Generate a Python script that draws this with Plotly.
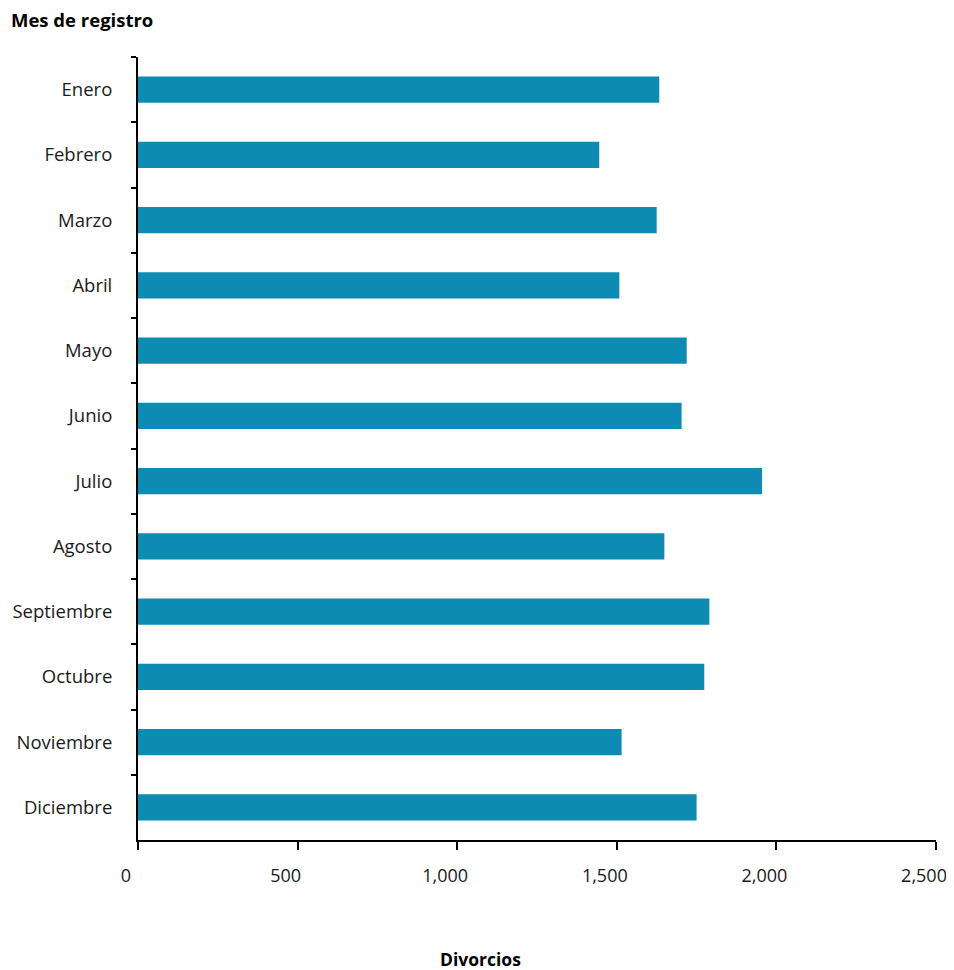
import plotly.graph_objects as go

months = ["Enero", "Febrero", "Marzo", "Abril", "Mayo", "Junio", "Julio",
          "Agosto", "Septiembre", "Octubre", "Noviembre", "Diciembre"]
divorcios = [1633, 1445, 1625, 1508, 1719, 1703, 1955, 1649, 1790, 1774, 1515, 1750]
x_ticks = [0, 500, 1000, 1500, 2000, 2500]
x_tick_labels = ["0", "500", "1,000", "1,500", "2,000", "2,500"]

FONT = "Open Sans"
OFF = 8  # page body margin
W, H = 954 - OFF, 970 - OFF
L, T = 138 - OFF, 57 - OFF
R = W - (936 - OFF)
B = H - (840 - OFF)
plot_w = W - L - R
plot_h = H - T - B

fig = go.Figure(go.Bar(
    y=months, x=divorcios, orientation="h",
    marker=dict(color="#0d8bb2", line=dict(width=0)),
))

fig.update_layout(
    width=W, height=H,
    margin=dict(l=L, r=R, t=T, b=B, autoexpand=False),
    plot_bgcolor="white", paper_bgcolor="white",
    bargap=0.6,
    showlegend=False,
    font=dict(family=FONT, size=18.5, color="#1a1a1a"),
    xaxis=dict(
        range=[0, 2500], tickvals=x_ticks, ticktext=x_tick_labels,
        showgrid=False, zeroline=False, showline=True, linecolor="black", linewidth=2,
        ticks="outside", ticklen=8, tickwidth=2, tickcolor="black",
        ticklabelstandoff=10, ticklabelshift=-12, ticklabeloverflow="allow",
        automargin=False,
        tickfont=dict(family=FONT, size=18, color="#1a1a1a"),
    ),
    yaxis=dict(
        categoryorder="array", categoryarray=months, autorange="reversed",
        showgrid=False, zeroline=False, showline=True, linecolor="black", linewidth=2,
        ticks="outside", tickson="boundaries", ticklen=5, tickwidth=2, tickcolor="black",
        ticklabelstandoff=20, automargin=False,
        tickfont=dict(family=FONT, size=18.5, color="#1a1a1a"),
    ),
    annotations=[
        dict(text="<b>Mes de registro</b>", xref="paper", yref="paper",
             x=(9 - 138) / plot_w, y=1 + (57 - 20) / plot_h,
             xanchor="left", yanchor="middle", showarrow=False,
             font=dict(family=FONT, size=18.5, color="black")),
        dict(text="<b>Divorcios</b>", xref="paper", yref="paper",
             x=(480 - 138) / plot_w, y=-(959 - 840) / plot_h,
             xanchor="center", yanchor="middle", showarrow=False,
             font=dict(family=FONT, size=17.5, color="black")),
    ],
)

fig.write_html("out.html")
